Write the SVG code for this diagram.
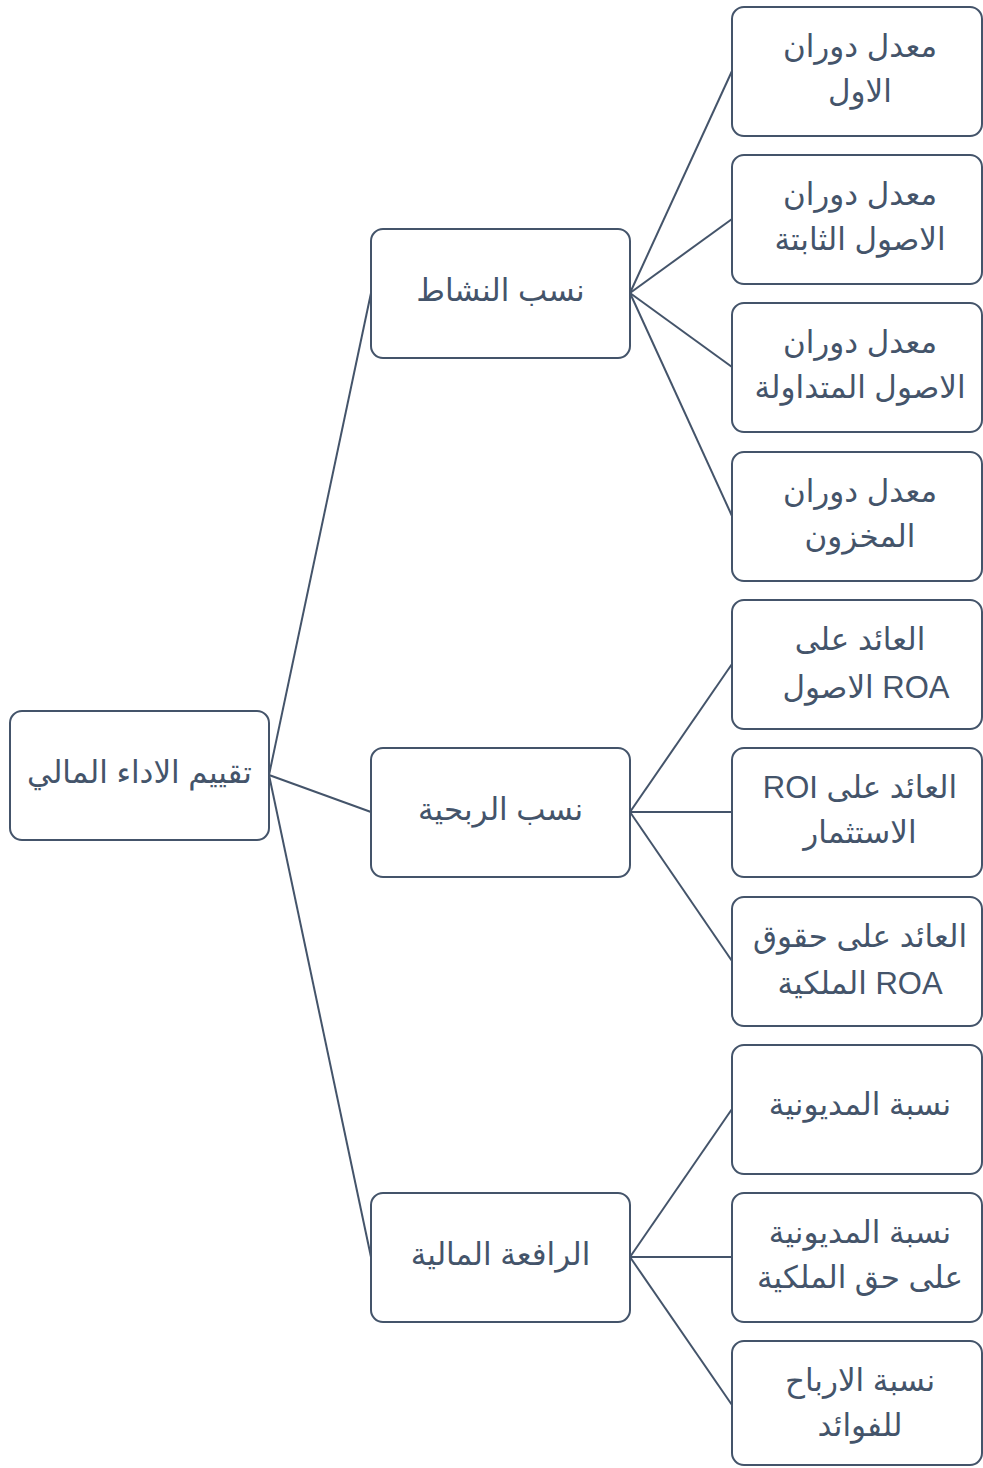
<svg xmlns="http://www.w3.org/2000/svg" width="983" height="1468" viewBox="0 0 983 1468">
<style>
.box{fill:#ffffff;stroke:#44546A;stroke-width:2}
.con{stroke:#44546A;stroke-width:2;fill:none}
text{font-family:"Liberation Sans","DejaVu Sans",sans-serif;font-size:31px;fill:#44546A;text-anchor:middle}
</style>
<rect width="983" height="1468" fill="#ffffff"/>
<g id="connectors">
<line class="con" x1="269" y1="775" x2="371" y2="293"/>
<line class="con" x1="269" y1="775" x2="371" y2="812"/>
<line class="con" x1="269" y1="775" x2="371" y2="1257"/>
<line class="con" x1="630" y1="293" x2="732" y2="71"/>
<line class="con" x1="630" y1="293" x2="732" y2="219"/>
<line class="con" x1="630" y1="293" x2="732" y2="367"/>
<line class="con" x1="630" y1="293" x2="732" y2="516"/>
<line class="con" x1="630" y1="812" x2="732" y2="664"/>
<line class="con" x1="630" y1="812" x2="732" y2="812"/>
<line class="con" x1="630" y1="812" x2="732" y2="961"/>
<line class="con" x1="630" y1="1257" x2="732" y2="1109"/>
<line class="con" x1="630" y1="1257" x2="732" y2="1257"/>
<line class="con" x1="630" y1="1257" x2="732" y2="1405"/>
</g>
<g id="root"><rect class="box" x="10" y="711" width="259" height="129" rx="12"/><text x="139.5" y="783">تقييم الاداء المالي</text></g>
<g id="n-activity"><rect class="box" x="371" y="229" width="259" height="129" rx="12"/><text x="500.5" y="301">نسب النشاط</text></g>
<g id="n-profit"><rect class="box" x="371" y="748" width="259" height="129" rx="12"/><text x="500.5" y="820">نسب الربحية</text></g>
<g id="n-leverage"><rect class="box" x="371" y="1193" width="259" height="129" rx="12"/><text x="500.5" y="1265">الرافعة المالية</text></g>
<g id="a1"><rect class="box" x="732" y="7" width="250" height="129" rx="12"/><text x="860" y="57">معدل دوران</text><text x="860" y="102">الاول</text></g>
<g id="a2"><rect class="box" x="732" y="155" width="250" height="129" rx="12"/><text x="860" y="205">معدل دوران</text><text x="860" y="250">الاصول الثابتة</text></g>
<g id="a3"><rect class="box" x="732" y="303" width="250" height="129" rx="12"/><text x="860" y="353">معدل دوران</text><text x="860" y="398">الاصول المتداولة</text></g>
<g id="a4"><rect class="box" x="732" y="452" width="250" height="129" rx="12"/><text x="860" y="502">معدل دوران</text><text x="860" y="547">المخزون</text></g>
<g id="p1"><rect class="box" x="732" y="600" width="250" height="129" rx="12"/><text x="860" y="650">العائد على</text><text x="866" y="698">الاصول ROA</text></g>
<g id="p2"><rect class="box" x="732" y="748" width="250" height="129" rx="12"/><text x="860" y="798">ROI العائد على</text><text x="860" y="843">الاستثمار</text></g>
<g id="p3"><rect class="box" x="732" y="897" width="250" height="129" rx="12"/><text x="860" y="947">العائد على حقوق</text><text x="860" y="994">الملكية ROA</text></g>
<g id="l1"><rect class="box" x="732" y="1045" width="250" height="129" rx="12"/><text x="860" y="1115">نسبة المديونية</text></g>
<g id="l2"><rect class="box" x="732" y="1193" width="250" height="129" rx="12"/><text x="860" y="1243">نسبة المديونية</text><text x="860" y="1288">على حق الملكية</text></g>
<g id="l3"><rect class="box" x="732" y="1341" width="250" height="124" rx="12"/><text x="860" y="1391">نسبة الارباح</text><text x="860" y="1436">للفوائد</text></g>
</svg>
